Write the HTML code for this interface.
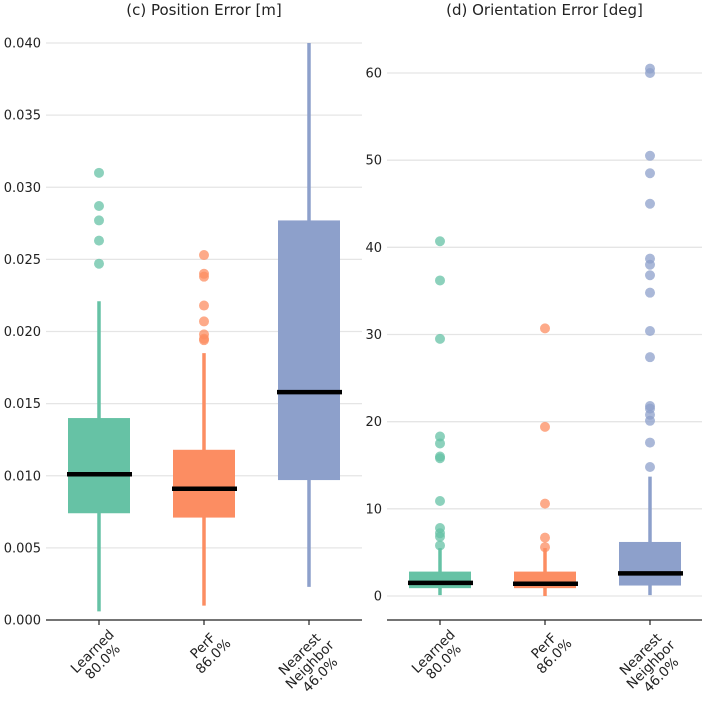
<!DOCTYPE html>
<html><head><meta charset="utf-8"><style>body{margin:0;background:#fff}svg{font-family:"DejaVu Sans","Liberation Sans",sans-serif}</style></head>
<body>
<svg id="c" width="706" height="706" viewBox="0 0 706 706" xmlns="http://www.w3.org/2000/svg"></svg>
<script>
const categories = [["Learned","80.0%"],["PerF","86.0%"],["Nearest","Neighbor","46.0%"]];
const colors = ["#66c2a5","#fc8d62","#8da0cb"];
// position error stats: [whiskerLow, q1, median, q3, whiskerHigh]
const posStats = [[0.0006,0.0074,0.0101,0.0140,0.0221],[0.0010,0.0071,0.0091,0.0118,0.0185],[0.0023,0.0097,0.0158,0.0277,0.0400]];
const posOutliers = [[0.0310,0.0287,0.0277,0.0263,0.0247],[0.0253,0.0240,0.0238,0.0218,0.0207,0.0198,0.0195,0.0194],[]];
const posTicks = [0,0.005,0.010,0.015,0.020,0.025,0.030,0.035,0.040];
const oriStats = [[0.1,0.9,1.5,2.8,5.5],[0.0,0.9,1.4,2.8,5.5],[0.1,1.2,2.6,6.2,13.7]];
const oriOutliers = [[40.7,36.2,29.5,18.3,17.5,16.0,15.8,10.9,7.8,7.2,6.8,5.8],[30.7,19.4,10.6,6.7,5.6],[60.5,60.0,50.5,48.5,45.0,38.7,38.0,36.8,34.8,30.4,27.4,21.8,21.5,20.8,20.1,17.6,14.8]];
const oriTicks = [0,10,20,30,40,50,60];

const svg=document.getElementById('c');
const NS='http://www.w3.org/2000/svg';
function mk(tag,attrs,parent){const e=document.createElementNS(NS,tag);for(const k in attrs)e.setAttribute(k,attrs[k]);(parent||svg).appendChild(e);return e;}

function panel(cfg){
  const g=mk('g',{});
  
  
  const y=v=>cfg.y0px+(v-cfg.v0)*(cfg.y1px-cfg.y0px)/(cfg.v1-cfg.v0);
  cfg.ticks.forEach(t=>{
    const py=y(t);
    if(!(cfg.skipZeroGrid&&t===0)){
      const gl=mk('line',{x1:cfg.gx0,x2:cfg.gx1,y1:py,y2:py,stroke:'#e5e5e5','stroke-width':1.3},g);
      
      
    }
    const tl=mk('text',{x:cfg.labelX,y:py+4.5,'text-anchor':'end','font-size':13,fill:'#222'},g);
    tl.textContent=cfg.fmt(t);
    
    
  });
  const ax=mk('line',{x1:cfg.gx0,x2:cfg.gx1,y1:620,y2:620,stroke:'#222','stroke-width':1.3},g);
  
  
  const title=mk('text',{x:(cfg.gx0+cfg.gx1)/2,y:15,'text-anchor':'middle','font-size':15,fill:'#222'},g);
  title.textContent=cfg.title;
  
  
  cfg.stats.forEach((s,i)=>{
    const cx=cfg.cx[i],c=colors[i],hw=31;
    const top=Math.max(y(s[4]),cfg.clipTop);
    const wh=mk('line',{x1:cx,x2:cx,y1:y(s[0]),y2:top,stroke:c,'stroke-width':3.5},g);
    
    
    const b=mk('rect',{x:cx-hw,y:y(s[3]),width:2*hw,height:y(s[1])-y(s[3]),fill:c},g);
    
    
    const md=mk('line',{x1:cx-hw-1,x2:cx+hw+2,y1:y(s[2]),y2:y(s[2]),stroke:'#000','stroke-width':4.5},g);
    
    
    cfg.outliers[i].forEach(v=>{
      const p=mk('circle',{cx:cx,cy:y(v),r:5,fill:c,'fill-opacity':0.75},g);
      
      
    });
    const tk=mk('line',{x1:cx,x2:cx,y1:620,y2:625,stroke:'#222','stroke-width':1.2},g);
    
    
    const lines=categories[i];
    const L=Math.max(...lines.map(l=>l.length))*7.9;
    const lg=mk('g',{transform:`translate(${cx+9},${628}) rotate(-45)`},g);
    
    
    lines.forEach((ln,j)=>{
      const t=mk('text',{x:-L/2,y:10+j*14.5,'text-anchor':'middle','font-size':13.5,fill:'#222'},lg);
      t.textContent=ln;
    });
  });
}
panel({name:'position-error-panel',title:'(c) Position Error [m]',v0:0,v1:0.040,y0px:620,y1px:43,gx0:46,gx1:362,labelX:41,cx:[99,204,309],ticks:posTicks,stats:posStats,outliers:posOutliers,fmt:t=>t.toFixed(3),skipZeroGrid:true,clipTop:43});
panel({name:'orientation-error-panel',title:'(d) Orientation Error [deg]',v0:0,v1:60,y0px:596,y1px:73,gx0:387,gx1:702,labelX:382,cx:[440,545,650],ticks:oriTicks,stats:oriStats,outliers:oriOutliers,fmt:t=>String(t),skipZeroGrid:false,clipTop:0});
</script>
</body></html>
